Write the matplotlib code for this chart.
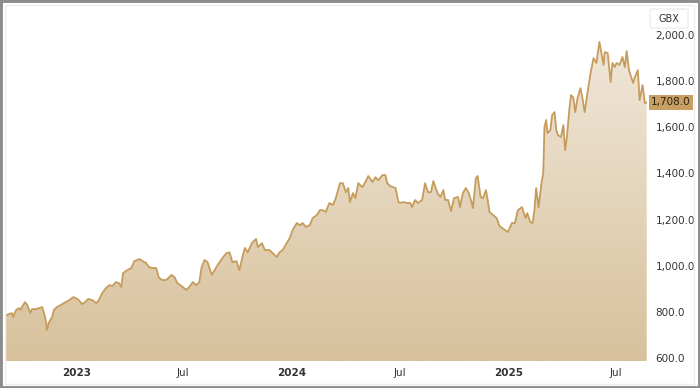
import matplotlib
matplotlib.use("Agg")
from matplotlib import pyplot as plt
from matplotlib.colors import LinearSegmentedColormap
from matplotlib.patches import Rectangle, FancyBboxPatch
import matplotlib.dates as mdates
import numpy as np
import pandas as pd

DATES = [
    "2022-09-04", "2022-09-09", "2022-09-14", "2022-09-16", "2022-09-21", "2022-09-26",
    "2022-09-29", "2022-10-01", "2022-10-06", "2022-10-10", "2022-10-15", "2022-10-18",
    "2022-10-25", "2022-10-30", "2022-11-04", "2022-11-07", "2022-11-11", "2022-11-12",
    "2022-11-16", "2022-11-21", "2022-11-24", "2022-11-29", "2022-12-06", "2022-12-11",
    "2022-12-20", "2022-12-27", "2023-01-03", "2023-01-11", "2023-01-16", "2023-01-21",
    "2023-01-28", "2023-02-04", "2023-02-07", "2023-02-14", "2023-02-20", "2023-02-26",
    "2023-03-03", "2023-03-09", "2023-03-14", "2023-03-18", "2023-03-21", "2023-03-28",
    "2023-04-04", "2023-04-09", "2023-04-14", "2023-04-18", "2023-04-23", "2023-04-29",
    "2023-05-04", "2023-05-10", "2023-05-16", "2023-05-21", "2023-05-27", "2023-06-02",
    "2023-06-11", "2023-06-16", "2023-06-21", "2023-06-30", "2023-07-06", "2023-07-11",
    "2023-07-17", "2023-07-23", "2023-07-28", "2023-08-01", "2023-08-06", "2023-08-11",
    "2023-08-18", "2023-08-23", "2023-08-28", "2023-09-05", "2023-09-12", "2023-09-17",
    "2023-09-22", "2023-09-29", "2023-10-04", "2023-10-09", "2023-10-13", "2023-10-18",
    "2023-10-25", "2023-11-01", "2023-11-04", "2023-11-11", "2023-11-16", "2023-11-24",
    "2023-11-29", "2023-12-06", "2023-12-11", "2023-12-16", "2023-12-23", "2023-12-28",
    "2024-01-02", "2024-01-09", "2024-01-14", "2024-01-19", "2024-01-24", "2024-01-31",
    "2024-02-05", "2024-02-12", "2024-02-17", "2024-02-22", "2024-02-27", "2024-03-04",
    "2024-03-10", "2024-03-15", "2024-03-22", "2024-03-27", "2024-04-01", "2024-04-05",
    "2024-04-08", "2024-04-13", "2024-04-17", "2024-04-22", "2024-04-29", "2024-05-04",
    "2024-05-09", "2024-05-16", "2024-05-21", "2024-05-26", "2024-06-02", "2024-06-07",
    "2024-06-10", "2024-06-15", "2024-06-24", "2024-06-29", "2024-07-02", "2024-07-07",
    "2024-07-14", "2024-07-19", "2024-07-22", "2024-07-27", "2024-08-01", "2024-08-08",
    "2024-08-13", "2024-08-18", "2024-08-23", "2024-08-27", "2024-09-03", "2024-09-08",
    "2024-09-13", "2024-09-16", "2024-09-21", "2024-09-26", "2024-10-01", "2024-10-08",
    "2024-10-11", "2024-10-16", "2024-10-21", "2024-10-26", "2024-10-31", "2024-11-02",
    "2024-11-07", "2024-11-10", "2024-11-15", "2024-11-19", "2024-11-24", "2024-11-27",
    "2024-11-30", "2024-12-06", "2024-12-12", "2024-12-17", "2024-12-26", "2024-12-31",
    "2025-01-07", "2025-01-12", "2025-01-17", "2025-01-24", "2025-01-30", "2025-02-02",
    "2025-02-07", "2025-02-11", "2025-02-14", "2025-02-17", "2025-02-21", "2025-02-26",
    "2025-03-01", "2025-03-03", "2025-03-06", "2025-03-08", "2025-03-13", "2025-03-16",
    "2025-03-20", "2025-03-23", "2025-03-26", "2025-03-31", "2025-04-04", "2025-04-07",
    "2025-04-10", "2025-04-14", "2025-04-17", "2025-04-21", "2025-04-24", "2025-04-28",
    "2025-05-03", "2025-05-06", "2025-05-10", "2025-05-15", "2025-05-20", "2025-05-25",
    "2025-05-30", "2025-06-04", "2025-06-08", "2025-06-11", "2025-06-13", "2025-06-18",
    "2025-06-23", "2025-06-26", "2025-06-30", "2025-07-03", "2025-07-08", "2025-07-13",
    "2025-07-17", "2025-07-20", "2025-07-24", "2025-07-31", "2025-08-03", "2025-08-08",
    "2025-08-11", "2025-08-16", "2025-08-20", "2025-08-23",
]
PRICES = [
    786, 790, 795, 778, 808, 816,
    808, 821, 842, 830, 795, 812,
    812, 816, 821, 799, 756, 721,
    756, 778, 808, 821, 830, 838,
    851, 864, 856, 834, 843, 856,
    851, 838, 847, 882, 903, 916,
    912, 929, 925, 908, 968, 981,
    990, 1020, 1025, 1029, 1020, 1012,
    994, 990, 990, 947, 938, 938,
    960, 951, 925, 908, 895, 908,
    929, 916, 929, 994, 1025, 1016,
    960, 981, 1003, 1033, 1055, 1058,
    1016, 1020, 981, 1038, 1077, 1059,
    1098, 1116, 1081, 1098, 1068, 1068,
    1055, 1038, 1059, 1068, 1098, 1120,
    1155, 1185, 1176, 1185, 1168, 1176,
    1207, 1220, 1241, 1241, 1233, 1272,
    1263, 1293, 1358, 1358, 1319, 1337,
    1276, 1315, 1293, 1358, 1341, 1363,
    1389, 1363, 1384, 1371, 1393, 1393,
    1358, 1345, 1337, 1276, 1272, 1276,
    1272, 1272, 1254, 1285, 1272, 1285,
    1358, 1319, 1319, 1367, 1315, 1298,
    1328, 1285, 1285, 1237, 1293, 1298,
    1254, 1315, 1337, 1315, 1272, 1250,
    1380, 1389, 1298, 1293, 1328, 1285,
    1233, 1220, 1207, 1172, 1155, 1146,
    1185, 1185, 1241, 1254, 1207, 1228,
    1189, 1185, 1241, 1337, 1254, 1358,
    1402, 1601, 1632, 1575, 1588, 1653,
    1666, 1588, 1566, 1558, 1610, 1501,
    1558, 1675, 1740, 1727, 1666, 1727,
    1770, 1731, 1666, 1753, 1835, 1900,
    1879, 1970, 1913, 1870, 1926, 1922,
    1796, 1879, 1861, 1879, 1870, 1905,
    1861, 1931, 1848, 1792, 1818, 1848,
    1718, 1783, 1705, 1708,
]
Y_TICKS = [600, 800, 1000, 1200, 1400, 1600, 1800, 2000]
X_TICKS = ["2023-01-01", "2023-07-01", "2024-01-01", "2024-07-01", "2025-01-01", "2025-07-01"]
X_LABELS = ["2023", "Jul", "2024", "Jul", "2025", "Jul"]
UNIT = "GBX"

LINE = "#c69c5c"
TEXT = "#333333"

dates = pd.to_datetime(DATES)
x = mdates.date2num(dates)
y = np.array(PRICES, dtype=float)

fig = plt.figure(figsize=(7.0, 3.88), dpi=100)
W, H = 700, 388
ax = fig.add_axes([6 / W, 1 - 361 / H, (647 - 6) / W, (361 - 6) / H])

y_lo, y_hi = 587, 2126
ax.set_xlim(x[0], x[-1] + 0.5)
ax.set_ylim(y_lo, y_hi)

# gradient area under the line
cmap = LinearSegmentedColormap.from_list("sand", ["#d8c19c", "#f0e7d9"])
grad = np.linspace(0, 1, 256).reshape(-1, 1)
im = ax.imshow(grad, cmap=cmap, origin="lower", aspect="auto",
               extent=[x[0], x[-1] + 0.5, y_lo, y.max()], zorder=1)
poly = ax.fill_between(x, y, y_lo, color="none", lw=0)
im.set_clip_path(poly.get_paths()[0], transform=ax.transData)
ax.plot(x, y, color=LINE, lw=1.3, zorder=3, solid_joinstyle="round")

for s in ax.spines.values():
    s.set_visible(False)
ax.set_xticks(mdates.date2num(pd.to_datetime(X_TICKS)))
ax.set_xticklabels(X_LABELS)
for lab, txt in zip(ax.get_xticklabels(), X_LABELS):
    if txt != "Jul":
        lab.set_fontweight("bold")
ax.tick_params(axis="x", length=0, pad=5, labelsize=7.5, labelcolor=TEXT)

ax.yaxis.tick_right()
ax.set_yticks(Y_TICKS)
ax.set_yticklabels([f"{v:,.1f}" for v in Y_TICKS])
ax.tick_params(axis="y", length=0, pad=6, labelsize=7.5, labelcolor=TEXT)

# last price tag
ax.annotate(f"{y[-1]:,.1f}", xy=(1.0, y[-1]), xycoords=("axes fraction", "data"),
            xytext=(3, 0), textcoords="offset points", va="center", ha="left",
            fontsize=7.5, color="#2b2110",
            bbox=dict(boxstyle="square,pad=0.25", fc="#c79f62", ec="none"))

# unit badge
fig.patches.append(FancyBboxPatch((650 / W, 1 - 28 / H), 38 / W, 19 / H,
                                  boxstyle="round,pad=0,rounding_size=0.004",
                                  transform=fig.transFigure, fc="white",
                                  ec="#e8e8e8", lw=0.8))
fig.text(669 / W, 1 - 18.5 / H, UNIT, ha="center", va="center", fontsize=7, color=TEXT)

# frame
fig.patches.append(Rectangle((5 / W, 1 - 384 / H), 689 / W, 379 / H,
                             transform=fig.transFigure, fill=False,
                             ec="#eeeeee", lw=1))
fig.patches.append(Rectangle((0, 0), 1, 1, transform=fig.transFigure,
                             fill=False, ec="#8c8c8c", lw=3.5))

fig.savefig("out.png", dpi=100)
